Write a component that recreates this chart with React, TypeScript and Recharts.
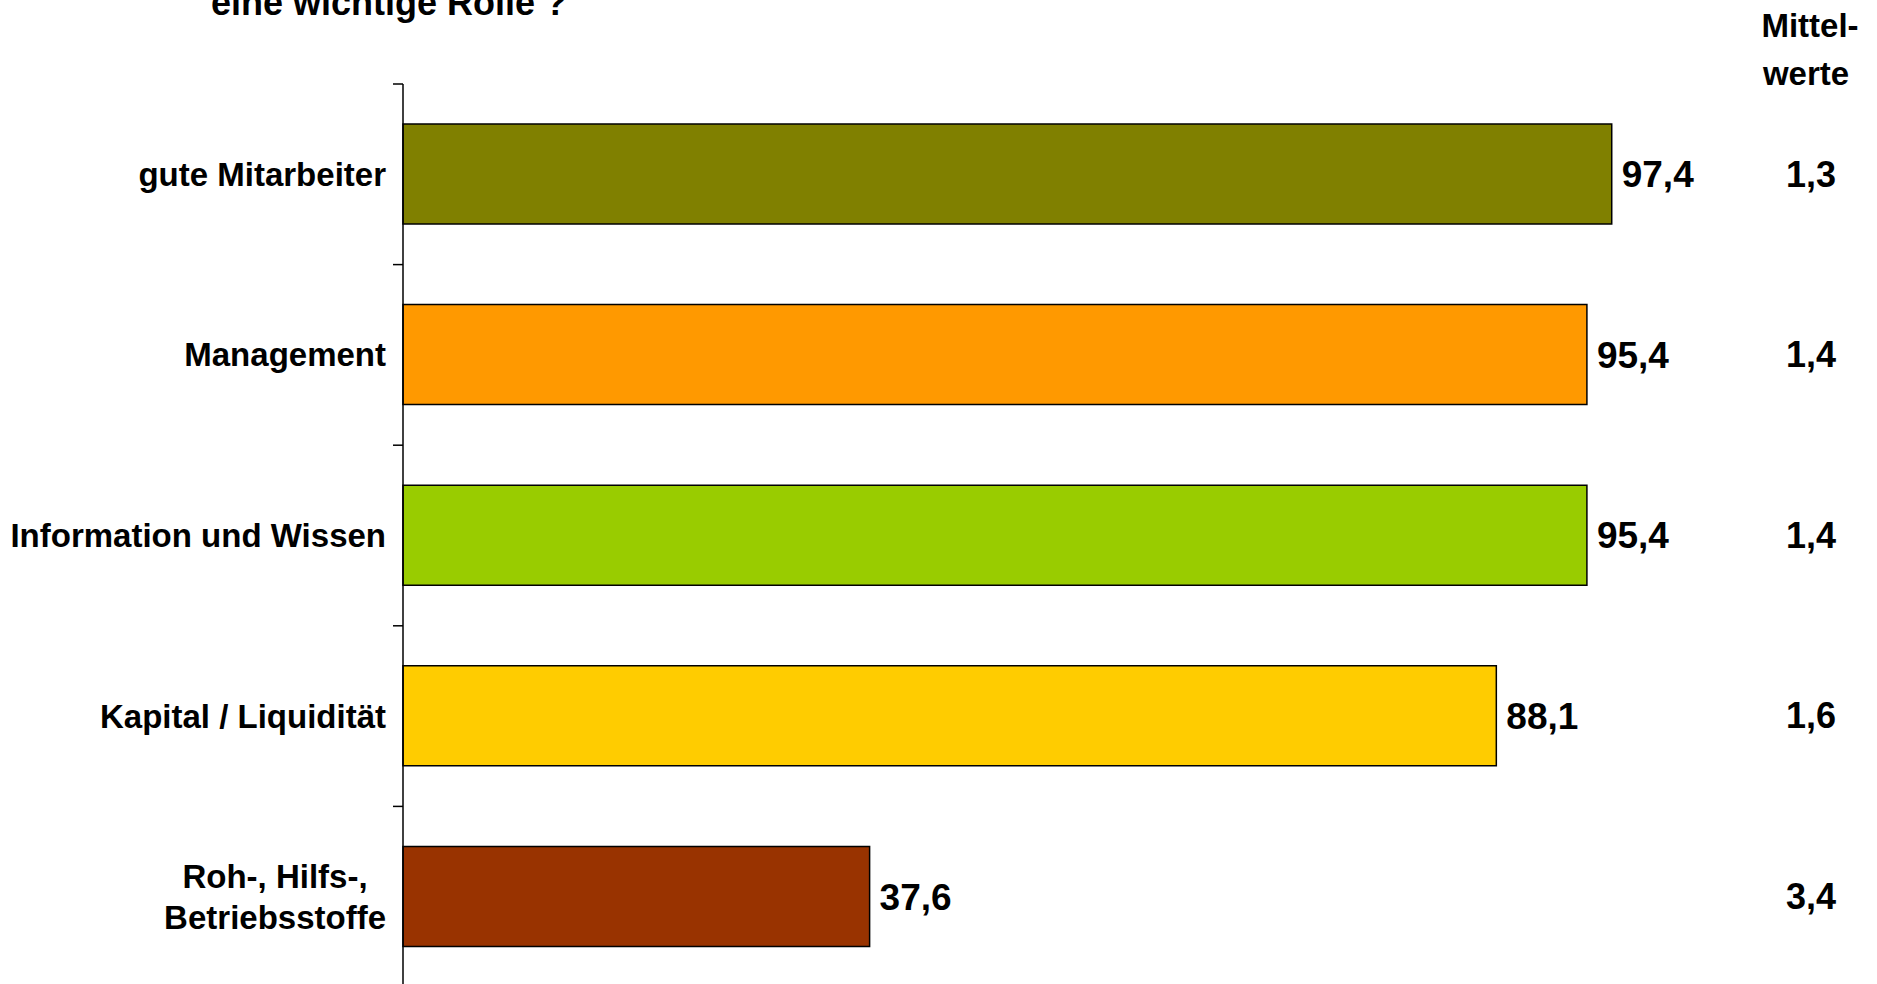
import { BarChart, Bar, XAxis, YAxis, LabelList, Cell } from 'recharts';

const categories = [
  'gute Mitarbeiter',
  'Management',
  'Information und Wissen',
  'Kapital / Liquidität',
  'Roh-, Hilfs-,\nBetriebsstoffe',
];
const shares = [97.4, 95.4, 95.4, 88.1, 37.6];
const means = [1.3, 1.4, 1.4, 1.6, 3.4];
const colors = ['#808000', '#FF9900', '#99CC00', '#FFCC00', '#993300'];

const FONT = '"Liberation Sans", Arial, sans-serif';
const fmt = (v: number) => v.toFixed(1).replace('.', ',');

const data = categories.map((name, i) => ({ name, share: shares[i], mean: means[i] }));

// width of a text line, used to center multi-line labels within their block
let ctx: CanvasRenderingContext2D | null = null;
function textWidth(s: string, size: number) {
  if (!ctx) ctx = document.createElement('canvas').getContext('2d');
  if (!ctx) return s.length * size * 0.55;
  ctx.font = `bold ${size}px ${FONT}`;
  return ctx.measureText(s).width;
}

function CategoryTick(props: any) {
  const { x, y, payload } = props;
  const size = 33;
  const lines = String(payload.value).split('\n');
  const half = payload.offset ?? 90;
  const axisX = x + 17;
  const blockW = Math.max(...lines.map(l => textWidth(l, size)));
  const cx = lines.length > 1 ? x - blockW / 2 : x;
  return (
    <g>
      <line x1={axisX - 10} y1={y - half} x2={axisX} y2={y - half} stroke="#000" strokeWidth={1.5} />
      <text
        x={cx}
        y={y}
        textAnchor={lines.length > 1 ? 'middle' : 'end'}
        fontSize={size}
        fontWeight="bold"
        fill="#000"
        fontFamily={FONT}
      >
        {lines.map((l, i) => (
          <tspan key={i} x={cx} dy={i === 0 ? `${0.35 - (lines.length - 1) * 0.62}em` : '1.24em'}>
            {l}
          </tspan>
        ))}
      </text>
    </g>
  );
}

function MeanLabel(props: any) {
  const { y, height, value } = props;
  return (
    <text
      x={1811}
      y={y + height / 2}
      textAnchor="middle"
      dominantBaseline="central"
      fontSize={36}
      fontWeight="bold"
      fill="#000"
      fontFamily={FONT}
    >
      {fmt(value)}
    </text>
  );
}

export default function App() {
  return (
    <div style={{ position: 'absolute', left: 0, top: 0, width: 1877, height: 984, overflow: 'hidden', background: '#fff', fontFamily: FONT }}>
      <BarChart
        width={1877}
        height={1000}
        data={data}
        layout="vertical"
        margin={{ top: 84, right: 233, bottom: 13, left: 0 }}
        barSize={100}
      >
        <XAxis type="number" domain={[0, 100]} hide />
        <YAxis
          type="category"
          dataKey="name"
          width={403}
          interval={0}
          tickSize={0}
          tickMargin={17}
          tickLine={false}
          axisLine={{ stroke: '#000', strokeWidth: 1.5 }}
          tick={<CategoryTick />}
        />
        <Bar dataKey="share" stroke="#000" strokeWidth={1.5} isAnimationActive={false}>
          {data.map((d, i) => (
            <Cell key={d.name} fill={colors[i]} />
          ))}
          <LabelList
            dataKey="share"
            position="right"
            offset={10}
            formatter={(v: any) => fmt(Number(v))}
            style={{ fontSize: 37, fontWeight: 'bold', fill: '#000', fontFamily: FONT }}
          />
          <LabelList dataKey="mean" content={<MeanLabel />} />
        </Bar>
      </BarChart>
      <svg width={1877} height={984} style={{ position: 'absolute', left: 0, top: 0, pointerEvents: 'none' }}>
        <text x={211} y={15} fontSize={36} fontWeight="bold" fill="#000" fontFamily={FONT}>
          eine wichtige Rolle ?
        </text>
        <text x={1810} y={37} textAnchor="middle" fontSize={33} fontWeight="bold" fill="#000" fontFamily={FONT}>
          Mittel-
        </text>
        <text x={1806} y={85} textAnchor="middle" fontSize={33} fontWeight="bold" fill="#000" fontFamily={FONT}>
          werte
        </text>
      </svg>
    </div>
  );
}
